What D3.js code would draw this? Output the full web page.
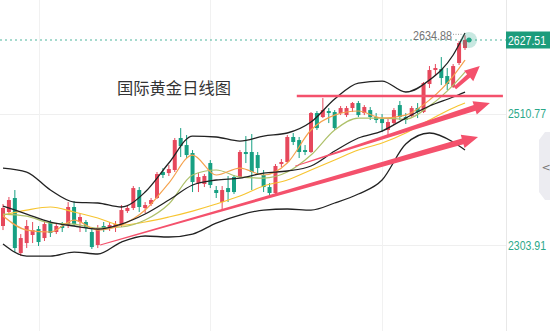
<!DOCTYPE html>
<html><head><meta charset="utf-8">
<script src="https://cdn.jsdelivr.net/npm/d3@7"></script>
<style>html,body{margin:0;padding:0;background:#fff;overflow:hidden}svg{display:block}</style>
</head><body><svg id="c" width="550" height="331"></svg>
<script>
// ---- candle data (daily OHLC) ----
const opens=[2333.9,2356.0,2378.1,2291.3,2307.0,2319.7,2329.1,2314.9,2340.2,2324.4,
2333.9,2335.4,2363.9,2340.2,2340.2,2324.4,2303.9,2333.9,2330.7,2332.3,
2335.4,2357.5,2362.3,2390.7,2362.3,2368.6,2378.1,2419.1,2417.5,2422.3,
2472.8,2461.7,2449.1,2401.7,2400.2,2433.3,2390.7,2371.7,2393.8,2411.2,
2411.2,2450.7,2450.7,2445.9,2414.4,2395.4,2386.0,2431.7,2434.9,2474.4,
2469.6,2453.8,2450.7,2512.2,2505.9,2515.4,2513.8,2512.2,2509.0,2520.1,
2528.0,2512.2,2516.9,2505.9,2502.7,2485.4,2496.4,2524.8,2505.9,2507.5,
2520.1,2513.8,2558.0,2580.1,2581.7,2570.6,2553.3,2591.2,2614.8];
const highs=[2368.6,2379.7,2390.7,2321.2,2343.3,2340.2,2333.9,2343.3,2343.3,2338.6,
2340.2,2371.7,2373.3,2354.4,2343.3,2330.7,2335.4,2340.2,2340.2,2341.7,
2367.0,2367.0,2397.0,2395.4,2371.7,2378.1,2419.1,2425.4,2430.1,2472.8,
2488.5,2477.5,2453.8,2417.5,2415.9,2438.0,2397.0,2397.0,2412.8,2414.4,
2453.8,2475.9,2479.1,2450.7,2422.3,2401.7,2431.7,2439.6,2477.5,2480.7,
2474.4,2461.7,2513.8,2515.4,2535.9,2520.1,2516.9,2523.3,2523.3,2529.6,
2531.2,2524.8,2521.7,2512.2,2510.6,2504.3,2520.1,2531.2,2512.2,2523.3,
2528.0,2561.2,2586.4,2589.6,2600.6,2583.3,2589.6,2625.9,2634.88];
const lows=[2327.5,2351.2,2292.8,2286.5,2299.1,2307.0,2302.3,2310.2,2316.5,2321.2,
2324.4,2330.7,2333.9,2324.4,2324.4,2297.6,2299.1,2324.4,2326.0,2324.4,
2332.3,2354.4,2359.1,2356.0,2354.4,2365.4,2376.5,2409.6,2412.8,2419.1,
2442.8,2441.2,2387.5,2387.5,2395.4,2393.8,2378.1,2359.1,2371.7,2384.4,
2409.6,2433.3,2390.7,2414.4,2387.5,2379.7,2382.8,2427.0,2433.3,2461.7,
2441.2,2445.9,2449.1,2485.4,2504.3,2496.4,2485.4,2509.0,2505.9,2513.8,
2505.9,2509.0,2501.2,2496.4,2482.2,2474.4,2493.3,2501.2,2494.9,2504.3,
2504.3,2512.2,2551.7,2570.6,2556.4,2548.5,2551.7,2588.0,2611.7];
const closes=[2362.3,2374.9,2299.1,2314.9,2333.9,2327.5,2308.6,2337.0,2322.8,2333.9,
2330.7,2363.9,2337.0,2348.1,2330.7,2300.7,2330.7,2330.7,2335.4,2337.0,
2359.1,2362.3,2393.8,2363.9,2367.0,2374.9,2415.9,2414.4,2423.8,2469.6,
2460.1,2445.9,2403.3,2411.2,2412.8,2398.6,2386.0,2390.7,2387.5,2387.5,
2450.7,2447.5,2419.1,2425.4,2395.4,2386.0,2428.6,2434.9,2474.4,2466.5,
2450.7,2450.7,2512.2,2488.5,2516.9,2512.2,2488.5,2520.1,2520.1,2528.0,
2509.0,2521.7,2505.9,2501.2,2496.4,2498.0,2516.9,2505.9,2501.2,2520.1,
2513.8,2559.6,2580.1,2583.3,2567.5,2558.0,2586.4,2622.7,2627.51];

// ---- indicator lines, read at these candle indices ----
const lineIdx=[0,4,8,12,16,20,24,28,32,36,40,44,48,52,56,60,64,68,72,76,78];
const bollUpper=[2425.4,2419.1,2390.7,2371.7,2370.2,2363.9,2387.5,2433.3,2475.9,2474.4,2468.0,2475.9,2480.7,2498.0,2534.3,2559.6,2562.7,2545.4,2564.3,2603.8,2638.5];
const bollMid=[2365.4,2352.8,2340.2,2333.9,2329.1,2337.0,2352.8,2374.9,2398.6,2406.5,2409.6,2417.5,2420.7,2428.6,2452.2,2472.8,2483.8,2504.3,2523.3,2537.5,2545.4];
const bollLower=[2305.5,2286.5,2286.5,2292.8,2289.7,2308.6,2318.1,2316.5,2321.2,2338.6,2351.2,2359.1,2360.7,2359.1,2370.2,2384.4,2406.5,2463.3,2480.7,2466.5,2453.8];
const ma5=[2349.6,2327.5,2324.4,2343.3,2327.5,2335.4,2359.1,2401.7,2445.9,2414.4,2425.4,2414.4,2433.3,2485.4,2509.0,2515.4,2504.3,2509.0,2532.7,2570.6,2595.9];
const ma10=[2352.8,2349.6,2338.6,2337.0,2330.7,2332.3,2343.3,2368.6,2414.4,2422.3,2411.2,2409.6,2419.1,2445.9,2485.4,2504.3,2504.3,2502.7,2523.3,2556.4,2576.9];
const ma20=[2351.2,2359.1,2363.9,2356.0,2346.5,2335.4,2340.2,2348.1,2357.5,2368.6,2381.2,2397.0,2406.5,2422.3,2438.0,2453.8,2464.9,2480.7,2501.2,2520.1,2528.0];

// ---- axis / labels ----
const axisTicks=[2627.51,2510.77,2303.91];
const lastPrice=2627.51;
const highPrice=2634.88;
const gridIdx=[6,35,64];
const title="国际黄金日线图";

// ---- hand-drawn annotations (candle index, price) ----
const arrowStarts=[[16.4,2303.9],[49.3,2428.6],[76.3,2551.7]];
const arrowEnds=[[80.2,2474.4],[82.2,2528.0],[80.5,2586.4]];
const arrowWidths=[[0.8,6],[0.8,6],[3.5,4.5]];
const hLine=[49.6,84.4,2539.1];

const W=550,H=331, plotRight=506;
const svg=d3.select("#c");
const x=d3.scaleLinear().domain([0,78]).range([3,465]);
const y=d3.scaleLinear().domain([2303.91,2627.51]).range([245,40]);

const RED="#e6485c", GREEN="#17a083", ANN="#f4516c", TEAL="#22a586";
const NUMFONT="'Liberation Sans',Arial,sans-serif";

// grid
svg.append("g").selectAll("line").data(axisTicks.slice(1)).join("line")
 .attr("x1",0).attr("x2",plotRight).attr("y1",d=>Math.round(y(d))+0.5).attr("y2",d=>Math.round(y(d))+0.5)
 .attr("stroke","#efefef");
svg.append("g").selectAll("line").data(gridIdx).join("line")
 .attr("x1",d=>Math.round(x(d))+0.5).attr("x2",d=>Math.round(x(d))+0.5).attr("y1",0).attr("y2",H)
 .attr("stroke","#f1f1f1");
svg.append("line").attr("x1",plotRight+0.5).attr("x2",plotRight+0.5).attr("y1",0).attr("y2",H).attr("stroke","#e8e8e8");

// title
svg.append("text").attr("x",117).attr("y",94).text(title)
 .attr("font-family","'Noto Sans CJK SC',sans-serif").attr("font-size",16.3).attr("fill","#333");

// current price dashed line
svg.append("line").attr("x1",0).attr("x2",plotRight).attr("y1",y(lastPrice)).attr("y2",y(lastPrice))
 .attr("stroke",TEAL).attr("stroke-dasharray","2,3").attr("stroke-width",1).attr("opacity",0.8);

// candles
const idx=d3.range(opens.length);
const cg=svg.append("g");
cg.selectAll("line").data(idx).join("line")
 .attr("x1",i=>x(i)).attr("x2",i=>x(i)).attr("y1",i=>y(highs[i])).attr("y2",i=>y(lows[i]))
 .attr("stroke",i=>closes[i]>=opens[i]?RED:GREEN).attr("stroke-width",1);
cg.selectAll("rect").data(idx).join("rect")
 .attr("x",i=>x(i)-2).attr("width",4)
 .attr("y",i=>y(Math.max(opens[i],closes[i])))
 .attr("height",i=>Math.max(1,Math.abs(y(opens[i])-y(closes[i]))))
 .attr("fill",i=>closes[i]>=opens[i]?RED:GREEN);

// indicator lines
const lineGen=d3.line().x(d=>x(d[0])).y(d=>y(d[1])).curve(d3.curveMonotoneX);
const series=[[ma20,"#f7c531",1.2],[ma10,"#aec16a",1.2],[ma5,"#f5a24e",1.2],
 [bollUpper,"#222",1.3],[bollMid,"#222",1.3],[bollLower,"#222",1.3]];
series.forEach(([vals,col,w])=>{
 svg.append("path").attr("d",lineGen(lineIdx.map((k,j)=>[k,vals[j]])))
  .attr("fill","none").attr("stroke",col).attr("stroke-width",w);
});

// annotations
svg.append("line").attr("x1",x(hLine[0])).attr("x2",x(hLine[1])).attr("y1",y(hLine[2])).attr("y2",y(hLine[2]))
 .attr("stroke",ANN).attr("stroke-width",2.5);
function arrowPath(s,e,w0,w1){
 const x0=x(s[0]),y0=y(s[1]),x1=x(e[0]),y1=y(e[1]);
 const dx=x1-x0,dy=y1-y0,L=Math.hypot(dx,dy),ux=dx/L,uy=dy/L,nx=-uy,ny=ux;
 const hl=Math.min(16,L*0.45),hw=7;
 const bx=x1-ux*hl,by=y1-uy*hl;
 const p=[[x0+nx*w0/2,y0+ny*w0/2],[bx+nx*w1/2,by+ny*w1/2],[bx+nx*hw,by+ny*hw],[x1,y1],
  [bx-nx*hw,by-ny*hw],[bx-nx*w1/2,by-ny*w1/2],[x0-nx*w0/2,y0-ny*w0/2]];
 return "M"+p.map(q=>q.join(",")).join("L")+"Z";
}
arrowStarts.forEach((s,k)=>{
 svg.append("path").attr("d",arrowPath(s,arrowEnds[k],arrowWidths[k][0],arrowWidths[k][1]))
  .attr("fill",ANN);
});

// high marker
const li=opens.length-1;
svg.append("text").attr("x",x(li)-52).attr("y",y(highPrice)+4.5)
 .attr("textLength",39).attr("lengthAdjust","spacingAndGlyphs")
 .text(highPrice.toFixed(2)).attr("font-family",NUMFONT).attr("font-size",12.5).attr("fill","#737373");
svg.append("line").attr("x1",x(li)-12).attr("x2",x(li)-2).attr("y1",y(highPrice)-1).attr("y2",y(highPrice)-1)
 .attr("stroke","#999").attr("stroke-dasharray","1,1.5");

// last price pulse
svg.append("circle").attr("cx",x(li)+4).attr("cy",y(lastPrice)).attr("r",8).attr("fill",TEAL).attr("opacity",0.25);
svg.append("circle").attr("cx",x(li)+4).attr("cy",y(lastPrice)).attr("r",2.5).attr("fill",TEAL);

// right axis labels
const ag=svg.append("g");
ag.selectAll("text").data(axisTicks.slice(1)).join("text")
 .attr("x",508).attr("y",d=>y(d)+4.5).text(d=>d.toFixed(2))
 .attr("textLength",38).attr("lengthAdjust","spacingAndGlyphs")
 .attr("font-family",NUMFONT).attr("font-size",12).attr("fill","#2aa889");
ag.append("rect").attr("x",506).attr("y",y(lastPrice)-8.5).attr("width",44).attr("height",17).attr("fill","#1d9c7c");
ag.append("text").attr("x",508).attr("y",y(lastPrice)+4.5).text(lastPrice.toFixed(2))
 .attr("textLength",38).attr("lengthAdjust","spacingAndGlyphs")
 .attr("font-family",NUMFONT).attr("font-size",12).attr("fill","#fff");

// collapse tab
svg.append("path").attr("d","M550,132 L545,132 L539,140 L539,192 L545,200 L550,200 Z").attr("fill","#ececf1");
svg.append("text").attr("x",541.5).attr("y",171).text("<").attr("font-family","'DejaVu Sans',sans-serif")
 .attr("font-size",11).attr("fill","#777");
</script></body></html>
